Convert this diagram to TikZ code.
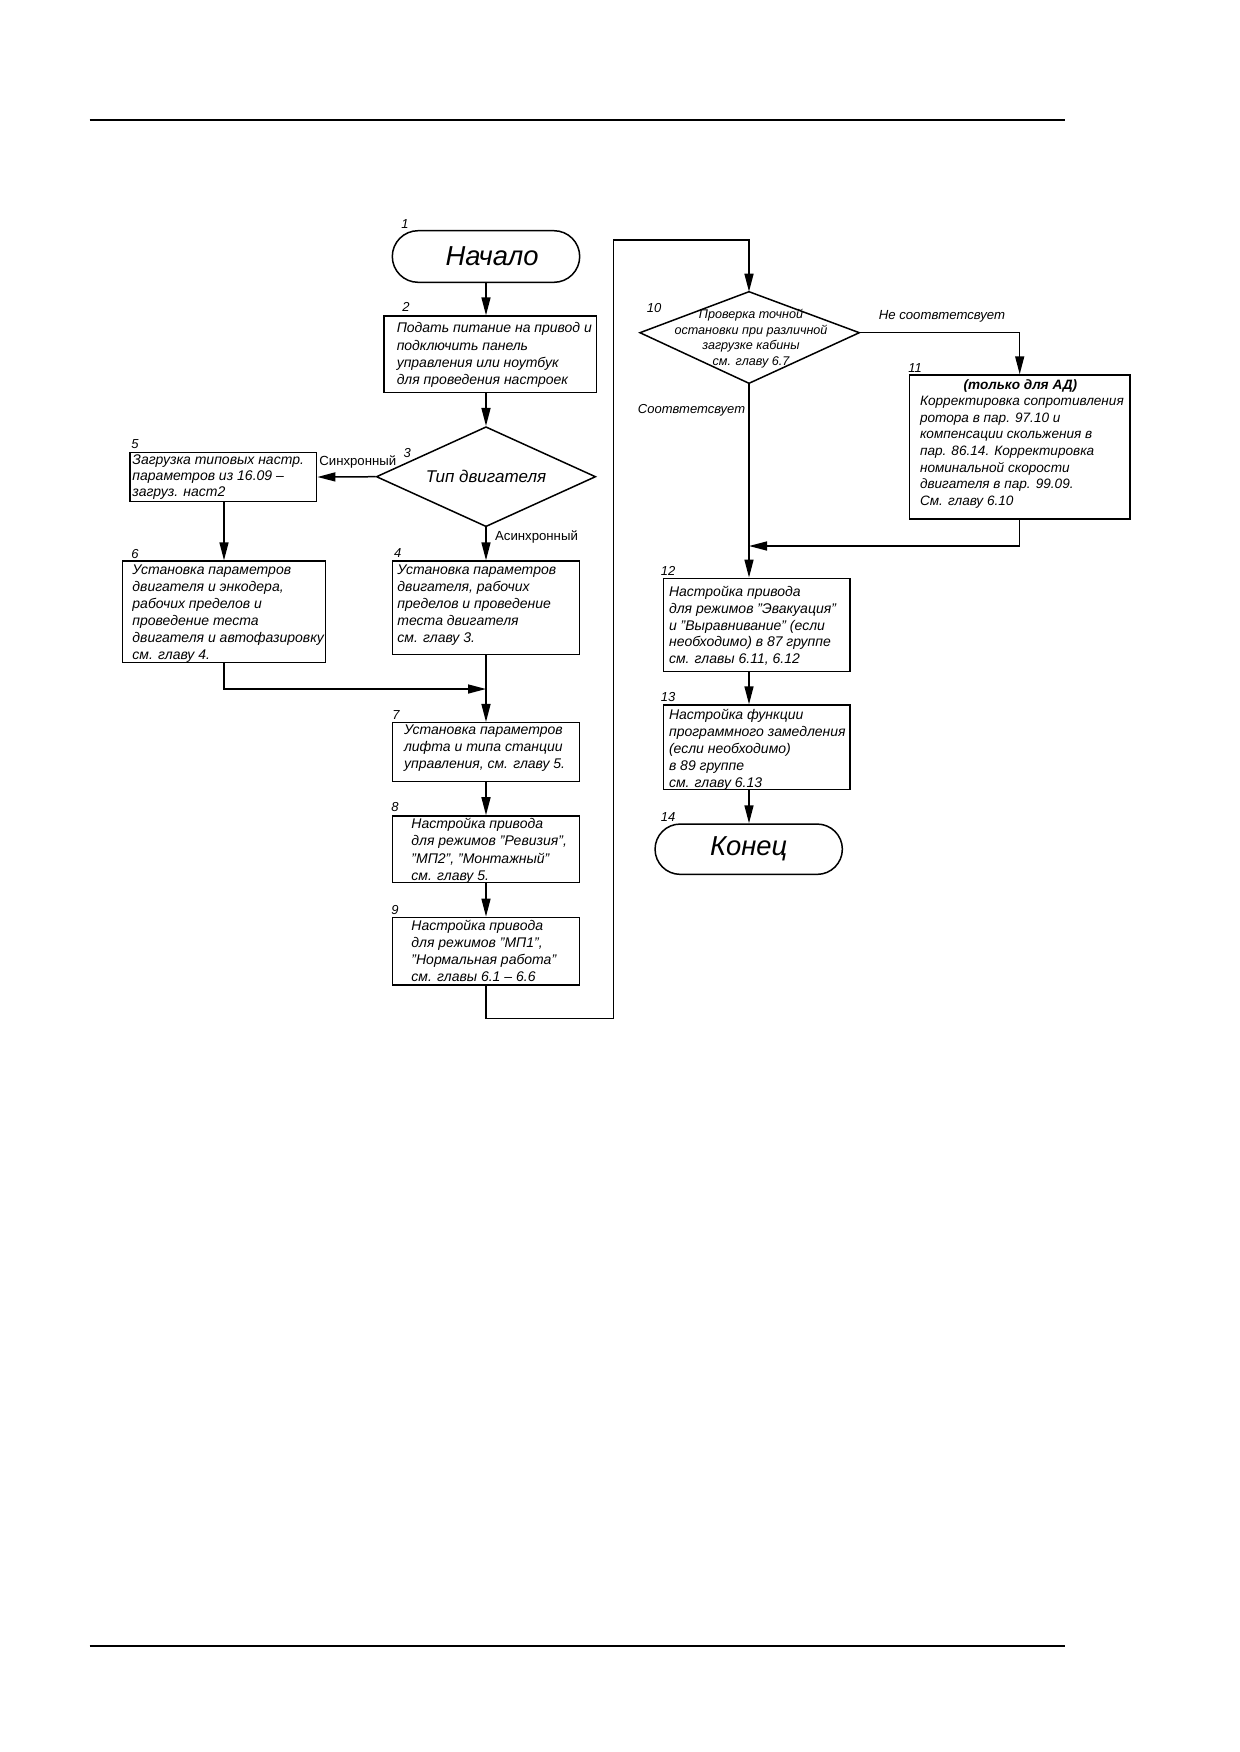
\documentclass[tikz,border=0pt]{standalone}
\usepackage{fontspec}
\setmainfont{Liberation Sans}
\usetikzlibrary{arrows.meta,shapes.geometric,shapes.misc}
\begin{document}
\begin{tikzpicture}[x=0.5pt,y=-0.5pt,line width=0.75pt,
  box/.style={draw, rectangle, inner sep=0pt},
  term/.style={draw, rounded rectangle, inner sep=0pt, font=\fontsize{13.7}{15}\selectfont\itshape},
  txt/.style={anchor=west, align=left, inner sep=0pt},
  num/.style={inner sep=0pt, font=\fontsize{6.5}{7}\selectfont\itshape},
  arr/.style={-{Triangle[length=9pt,width=4.5pt]}},
  lbl/.style={inner sep=0pt, font=\fontsize{6.6}{8}\selectfont},
  rule/.style={line width=1pt}
]
\fill[white] (0,0) rectangle (1239,1752);
\useasboundingbox (0,0) rectangle (1239,1752);

% page rules
\draw[rule] (89.5,120) -- (1064.5,120);
\draw[rule] (89.5,1645.7) -- (1064.5,1645.7);

% shapes
\node[term, minimum width=93.7pt, minimum height=25.8pt] (t1) at (486,256.5) {\hspace*{6pt}Начало};
\node[box, minimum width=106.35pt, minimum height=38.15pt] (b2) at (490.3,354.2) {};
\node[draw, diamond, shape aspect=2.2, inner sep=0pt, minimum width=109.7pt, minimum height=50pt,
      font=\fontsize{8.5}{10}\selectfont\itshape] (d3) at (486,476.7) {Тип двигателя};
\node[box, minimum width=93.35pt, minimum height=24.7pt] (b5) at (223.3,477) {};
\node[box, minimum width=101.7pt, minimum height=50.65pt] (b6) at (224,611.7) {};
\node[box, minimum width=93.3pt, minimum height=46.65pt] (b4) at (486,607.7) {};
\node[box, minimum width=93.3pt, minimum height=29.5pt] (b7) at (486,752.2) {};
\node[box, minimum width=93.3pt, minimum height=33.35pt] (b8) at (486,849.3) {};
\node[box, minimum width=93.3pt, minimum height=33.85pt] (b9) at (486,951.2) {};

\coordinate (d10t) at (749,291.7);
\coordinate (d10l) at (640,332.7);
\coordinate (d10r) at (859.3,332.7);
\coordinate (d10b) at (749,383.3);
\draw (d10t) -- (d10r) -- (d10b) -- (d10l) -- cycle;
\node[inner sep=0pt, align=center, font=\fontsize{6.3}{7.75}\selectfont\itshape] (d10) at (751,338.4)
  {Проверка точной\\остановки при различной\\загрузке кабины\\см. главу 6.7};

\node[box, minimum width=110.35pt, minimum height=72pt] (b11) at (1019.7,447) {};
\node[box, minimum width=93.35pt, minimum height=46.7pt] (b12) at (756.7,625) {};
\node[box, minimum width=93.35pt, minimum height=42.15pt] (b13) at (756.7,747.2) {};
\node[term, minimum width=93.65pt, minimum height=25.15pt] (t14) at (748.7,849.2) {Конец};

% box texts
\node[txt, font=\fontsize{7}{8.67}\selectfont\itshape] (b2t) at (396,355.2)
  {Подать питание на привод и\\подключить панель\\управления или ноутбук\\для проведения настроек};
\node[txt, font=\fontsize{7}{8}\selectfont\itshape] (b5t) at (131.7,477.5)
  {Загрузка типовых настр.\\параметров из 16.09 –\\загруз. наст2};
\node[txt, font=\fontsize{7}{8.5}\selectfont\itshape] (b6t) at (131.7,613.8)
  {Установка параметров\\двигателя и энкодера,\\рабочих пределов и\\проведение теста\\двигателя и автофазировку\\см. главу 4.};
\node[txt, font=\fontsize{7}{8.5}\selectfont\itshape] (b4t) at (396.7,604.8)
  {Установка параметров\\двигателя, рабочих\\пределов и проведение\\теста двигателя\\см. главу 3.};
\node[txt, font=\fontsize{7}{8.5}\selectfont\itshape] (b7t) at (403.3,748)
  {Установка параметров\\лифта и типа станции\\управления, см. главу 5.};
\node[txt, font=\fontsize{7}{8.6}\selectfont\itshape] (b8t) at (410.7,850.8)
  {Настройка привода\\для режимов "Ревизия",\\"МП2", "Монтажный"\\см. главу 5.};
\node[txt, font=\fontsize{7}{8.5}\selectfont\itshape] (b9t) at (410.7,951.2)
  {Настройка привода\\для режимов "МП1",\\"Нормальная работа"\\см. главы 6.1 – 6.6};
\node[txt, font=\fontsize{6.8}{8.33}\selectfont\itshape] (b11t) at (919.3,443.8)
  {\makebox[100.35pt][c]{\bfseries (только для АД)}\\Корректировка сопротивления\\ротора в пар. 97.10 и\\компенсации скольжения в\\пар. 86.14. Корректировка\\номинальной скорости\\двигателя в пар. 99.09.\\См. главу 6.10};
\node[txt, font=\fontsize{7}{8.33}\selectfont\itshape] (b12t) at (668.3,626)
  {Настройка привода\\для режимов "Эвакуация"\\и "Выравнивание" (если\\необходимо) в 87 группе\\см. главы 6.11, 6.12};
\node[txt, font=\fontsize{7}{8.4}\selectfont\itshape] (b13t) at (668.3,749.7)
  {Настройка функции\\программного замедления\\(если необходимо)\\в 89 группе\\см. главу 6.13};

% numbers
\node[num] (n1) at (405,224) {1};
\node[num] (n2) at (406,307.3) {2};
\node[num] (n3) at (407.3,452.7) {3};
\node[num] (n4) at (397.7,552.7) {4};
\node[num] (n5) at (135,444) {5};
\node[num] (n6) at (135,554) {6};
\node[num] (n7) at (396,715) {7};
\node[num] (n8) at (395,807) {8};
\node[num] (n9) at (395,910) {9};
\node[num] (n10) at (654,308.3) {10};
\node[num] (n11) at (915,368.3) {11};
\node[num] (n12) at (668,570.7) {12};
\node[num] (n13) at (668,697.3) {13};
\node[num] (n14) at (668,816.7) {14};

% branch labels
\node[lbl] (lsyn) at (357.8,461.7) {Синхронный};
\node[lbl] (lasyn) at (536.5,537.3) {Асинхронный};
\node[inner sep=0pt, anchor=west, font=\fontsize{6.6}{8}\selectfont\itshape] (lno) at (878,316.7) {Не соотвтетсвует};
\node[inner sep=0pt, font=\fontsize{6.5}{8}\selectfont\itshape] (lyes) at (691.5,410) {Соотвтетсвует};

% connectors
\draw[arr] (t1.south) -- (t1.south |- b2.north);
\draw[arr] (b2.south -| d3.north) -- (d3.north);
\draw[arr] (d3.west) -- (b5.east);
\draw[arr] (d3.south) -- (b4.north);
\draw[arr] (b5.south -| b6.north) -- (b6.north);
\coordinate (merge) at (486,689);
\draw[arr] (b6.south) |- (merge);
\draw[arr] (b4.south) -- (b7.north);
\draw[arr] (b7.south) -- (b8.north);
\draw[arr] (b8.south) -- (b9.north);
\coordinate (lp1) at (613.3,1018.3);
\coordinate (lp2) at (613.3,240);
\draw[arr] (b9.south) |- (lp1) -- (lp2) -| (d10t);
\draw[arr] (d10r) -| (b11.north);
\coordinate (join) at (749,546);
\draw[arr] (b11.south) |- (join);
\draw[arr] (d10b) -- (d10b |- b12.north);
\draw[arr] (d10b |- b12.south) -- (d10b |- b13.north);
\draw[arr] (d10b |- b13.south) -- (d10b |- t14.north);
\end{tikzpicture}
\end{document}
